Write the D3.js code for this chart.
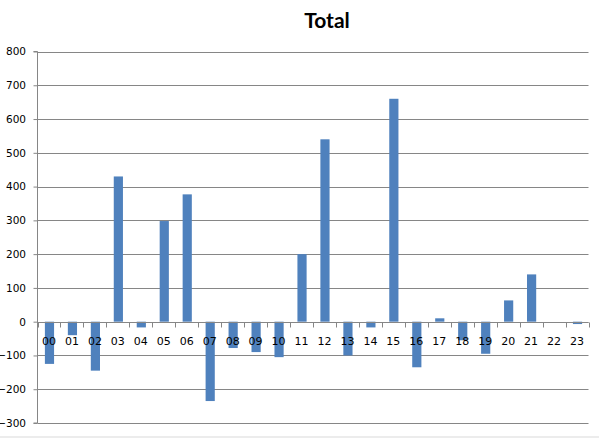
<!DOCTYPE html>
<html><head><meta charset="utf-8">
<script src="https://cdn.jsdelivr.net/npm/d3@7/dist/d3.min.js"></script>
<style>body{margin:0;background:#fff}</style>
</head><body><svg id="c" width="599" height="438"></svg>
<script>
const categories = ["00","01","02","03","04","05","06","07","08","09","10","11","12","13","14","15","16","17","18","19","20","21","22","23"];
const values = [-125,-40,-145,430,-17,298,377,-235,-78,-90,-105,200,540,-100,-17,660,-135,10,-55,-95,63,140,0,-7];
const yTicks = [-300,-200,-100,0,100,200,300,400,500,600,700,800];
const title = "Total";

(function(){
const svg = d3.select("#c");
const mLeft = 37.5, mRight = 588.5, mTop = 51.5, mBottom = 423;
const x = d3.scaleBand().domain(categories).range([mLeft, mRight]).paddingInner(0.6).paddingOuter(0.3);
const xb = d3.scaleBand().domain(categories).range([mLeft, mRight]);
const y = d3.scaleLinear().domain([-300, 800]).range([mBottom, mTop]);

svg.append("line").attr("x1",0).attr("x2",599).attr("y1",437).attr("y2",437).attr("stroke","#d9d9d9");

svg.append("g").selectAll("line").data(yTicks).join("line")
  .attr("x1", mLeft).attr("x2", mRight)
  .attr("y1", d => Math.round(y(d)) + 0.5).attr("y2", d => Math.round(y(d)) + 0.5)
  .attr("stroke", "#868686").attr("stroke-width", 1);

const yAxis = d3.axisLeft(y).tickValues(yTicks).tickSize(4).tickPadding(10);
const gy = svg.append("g").attr("transform", `translate(${mLeft},0)`).call(yAxis);
gy.select(".domain").attr("stroke", "#868686").attr("d", `M-4,${mBottom}H0V${mTop}H-4`);
gy.selectAll(".tick line").attr("stroke", "#868686");
gy.selectAll(".tick text").attr("font-family", "DejaVu Sans, Verdana, sans-serif").attr("font-size", "10.5px").attr("fill", "#000").attr("x", -11.5);

svg.append("g").selectAll("rect").data(categories).join("rect")
  .attr("x", (d) => x(d) + 0.5)
  .attr("width", x.bandwidth())
  .attr("y", (d, i) => y(Math.max(0, values[i])))
  .attr("height", (d, i) => Math.abs(y(values[i]) - y(0)))
  .attr("fill", "#4f81bd");

const z = Math.round(y(0)) + 0.5;
const gx = svg.append("g");
gx.append("line").attr("x1", mLeft).attr("x2", mRight).attr("y1", z).attr("y2", z).attr("stroke", "#868686");
gx.selectAll("line.t").data(categories.concat(["end"])).join("line").attr("class","t")
  .attr("x1", (d, i) => Math.round(mLeft + i * xb.bandwidth()) + 0.5)
  .attr("x2", (d, i) => Math.round(mLeft + i * xb.bandwidth()) + 0.5)
  .attr("y1", z).attr("y2", z + 5).attr("stroke", "#868686");
gx.selectAll("text").data(categories).join("text")
  .attr("x", d => xb(d) + xb.bandwidth() / 2)
  .attr("y", z + 22)
  .attr("text-anchor", "middle")
  .attr("font-family", "DejaVu Sans, Verdana, sans-serif").attr("font-size", "11px").attr("fill", "#000")
  .text(d => d);

svg.append("text").attr("x", 327).attr("y", 28).attr("text-anchor", "middle")
  .attr("font-family", "Lato, Open Sans, sans-serif").attr("font-weight", "bold").attr("font-size", "21px")
  .attr("fill", "#000").text(title);
})();
</script></body></html>
